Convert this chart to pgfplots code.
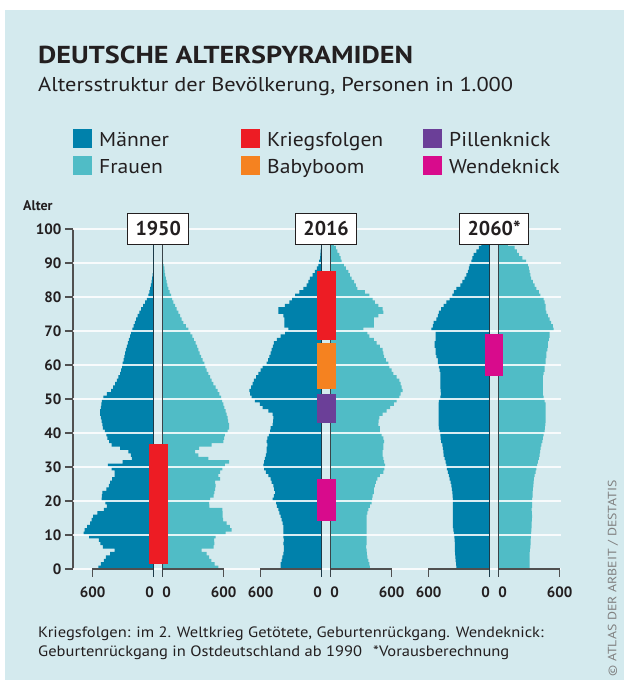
\documentclass[border=0pt]{standalone}
\usepackage{fontspec}
\setmainfont{PT Sans}
\usepackage{pgfplots}
\pgfplotsset{compat=1.18}
\usepackage{pgfplotstable}
\definecolor{bg}{HTML}{D4EAEE}
\definecolor{maenner}{HTML}{0081AB}
\definecolor{frauen}{HTML}{50BCC6}
\definecolor{krieg}{HTML}{ED1C24}
\definecolor{baby}{HTML}{F58220}
\definecolor{pille}{HTML}{6B3F98}
\definecolor{wende}{HTML}{D80B8C}
\definecolor{axisgray}{HTML}{505050}
\definecolor{txt}{HTML}{231F20}
\definecolor{menline}{HTML}{1C3A48}
\definecolor{womline}{HTML}{3A4449}
\begin{document}
\pgfplotstableread{
a m f
0 0 0
0 545 548
1 520 510
2 490 478
3 470 456
4 430 433
5 385 384
6 500 500
7 525 508
8 540 505
9 636 520
10 690 620
11 680 679
12 655 660
13 625 630
14 610 595
15 595 590
16 555 590
17 490 587
18 462 460
19 475 456
20 512 466
21 510 500
22 505 508
23 465 515
24 440 521
25 430 515
26 410 564
27 385 548
28 385 564
29 415 587
30 450 613
31 305 653
32 216 449
33 225 351
34 250 318
35 330 358
36 415 482
37 438 597
38 455 605
39 465 613
40 480 640
41 500 653
42 505 653
43 512 645
44 520 640
45 528 630
46 528 618
47 520 607
48 515 597
49 510 585
50 495 574
51 460 558
52 420 541
53 400 520
54 380 499
55 362 482
56 348 466
57 330 450
58 320 433
59 312 421
60 305 410
61 296 393
62 289 377
63 282 364
64 275 351
65 265 338
66 255 325
67 245 308
68 233 292
69 222 272
70 210 253
71 197 228
72 185 203
73 172 187
74 158 171
75 142 155
76 125 138
77 105 122
78 85 105
79 68 93
80 52 82
81 44 69
82 36 56
83 28 47
84 20 39
85 15 31
86 10 23
87 7 19
88 4 16
89 2 10
90 0 5
91 0 0
}\tabA
\pgfplotstableread{
a m f
0 0 0
0 403 387
1 403 380
2 394 371
3 387 361
4 377 357
5 371 354
6 371 348
7 377 354
8 371 354
9 377 354
10 377 354
11 377 354
12 377 354
13 384 354
14 394 354
15 403 354
16 417 361
17 426 371
18 440 387
19 449 403
20 482 408
21 470 413
22 459 426
23 468 426
24 476 436
25 492 446
26 502 459
27 525 485
28 550 518
29 567 528
30 574 535
31 565 525
32 558 518
33 550 512
34 541 512
35 541 518
36 535 520
37 541 525
38 535 518
39 520 502
40 508 485
41 502 485
42 482 469
43 478 472
44 476 479
45 482 512
46 525 551
47 581 584
48 607 623
49 656 649
50 689 676
51 705 689
52 710 708
53 695 699
54 680 689
55 666 676
56 645 649
57 623 617
58 600 600
59 581 577
60 541 567
61 528 544
62 515 525
63 503 518
64 492 512
65 480 485
66 469 453
67 440 426
68 403 380
69 360 361
70 328 321
71 367 426
72 367 426
73 367 426
74 377 469
75 426 518
76 426 512
77 361 469
78 318 436
79 290 413
80 262 380
81 220 338
82 180 262
83 148 249
84 130 230
85 115 207
86 90 190
87 66 174
88 48 151
89 33 131
90 25 108
91 16 98
92 13 85
93 10 66
94 6 52
95 3 33
96 2 20
97 1 10
98 0 5
99 0 0
}\tabB
\pgfplotstableread{
a m f
0 0 0
0 328 305
1 330 305
2 335 305
3 338 305
4 340 305
5 341 308
6 342 312
7 343 314
8 344 315
9 348 318
10 351 321
11 356 323
12 361 325
13 361 325
14 361 328
15 361 331
16 361 328
17 361 325
18 361 331
19 361 331
20 361 331
21 364 334
22 367 336
23 372 338
24 377 341
25 384 344
26 394 348
27 400 354
28 410 364
29 420 371
30 426 380
31 433 387
32 443 397
33 453 403
34 456 408
35 459 413
36 466 420
37 476 430
38 482 436
39 485 443
40 492 453
41 499 456
42 502 460
43 502 462
44 502 462
45 502 462
46 502 462
47 502 462
48 502 462
49 499 453
50 485 443
51 480 436
52 482 436
53 485 436
54 485 436
55 485 436
56 485 436
57 485 443
58 492 453
59 499 453
60 508 462
61 508 462
62 525 469
63 531 469
64 531 479
65 541 485
66 541 485
67 531 495
68 531 502
69 531 502
70 574 541
71 558 535
72 551 518
73 525 502
74 508 485
75 499 469
76 476 462
77 453 462
78 426 453
79 394 443
80 367 410
81 351 397
82 328 371
83 289 354
84 269 338
85 246 321
86 230 312
87 213 305
88 203 298
89 197 289
90 180 272
91 171 233
92 157 200
93 131 180
94 105 157
95 82 92
96 60 60
97 40 40
98 25 25
99 12 12
100 0 0
}\tabC
\begin{tikzpicture}[x=1pt,y=1pt]
\path[use as bounding box] (0,0) rectangle (624,684);
\fill[white] (0,0) rectangle (624,684);
\fill[bg] (5,4) rectangle (624,674);
% titles
\node[anchor=base west, inner sep=0, xscale=1.15, text=txt, font=\fontsize{24.5}{24}\selectfont\bfseries] at (38,620.7) {DEUTSCHE ALTERSPYRAMIDEN};
\node[anchor=base west, inner sep=0, xscale=1.12, text=txt, font=\fontsize{20}{20}\selectfont] at (38,592.5) {Altersstruktur der Bevölkerung, Personen in 1.000};
% legend
\fill[maenner] (73,536) rectangle (92,555);
\fill[frauen] (73,509) rectangle (92,528);
\fill[krieg] (241,536) rectangle (260,555);
\fill[baby] (241,509) rectangle (260,528);
\fill[pille] (423,536) rectangle (442,555);
\fill[wende] (423,509) rectangle (442,528);
\begin{scope}[every node/.style={anchor=base west, inner sep=0, xscale=1.08, text=txt, font=\fontsize{20}{20}\selectfont}]
\node at (99,537.3) {Männer};
\node at (99,510.7) {Frauen};
\node at (267,537.3) {Kriegsfolgen};
\node at (267,510.7) {Babyboom};
\node at (449,537.3) {Pillenknick};
\node at (449,510.7) {Wendeknick};
\end{scope}
\node[anchor=base west, inner sep=0, text=txt, font=\fontsize{14}{14}\selectfont\bfseries] at (23,473) {Alter};
% footnote
\node[anchor=base west, inner sep=0, xscale=1.1, text=txt, font=\fontsize{15}{15}\selectfont] at (38,46.5) {Kriegsfolgen: im 2. Weltkrieg Getötete, Geburtenrückgang. Wendeknick:};
\node[anchor=base west, inner sep=0, xscale=1.1, text=txt, font=\fontsize{15}{15}\selectfont] at (38,27) {Geburtenrückgang in Ostdeutschland ab 1990\hspace{10pt}*Vorausberechnung};
\node[rotate=90, anchor=west, inner sep=0, xscale=1.15, text=gray, font=\fontsize{12}{12}\selectfont] at (613,7) {© ATLAS DER ARBEIT / DESTATIS};
\begin{axis}[at={(73pt,115pt)}, anchor=south west, scale only axis,
  width=488pt, height=340pt,
  xmin=0, xmax=4800, ymin=0, ymax=100, clip=false,
  axis x line=none, axis y line*=left,
  y axis line style={axisgray, line width=1.3pt, -},
  ytick={0,10,...,100}, tick align=outside, major tick length=8pt,
  ytick style={axisgray, line width=1.3pt},
  yticklabel style={font=\fontsize{15}{15}\selectfont\bfseries, text=txt},
  /pgf/number format/assume math mode=true]
% pyramids
\addplot[fill=maenner, draw=none, const plot mark right] table[x expr=794-\thisrow{m}, y=a] {\tabA};
\addplot[fill=frauen, draw=none, const plot mark right] table[x expr=882+\thisrow{f}, y=a] {\tabA};
\addplot[fill=maenner, draw=none, const plot mark right] table[x expr=2446-\thisrow{m}, y=a] {\tabB};
\addplot[fill=frauen, draw=none, const plot mark right] table[x expr=2534+\thisrow{f}, y=a] {\tabB};
\addplot[fill=maenner, draw=none, const plot mark right] table[x expr=4098-\thisrow{m}, y=a] {\tabC};
\addplot[fill=frauen, draw=none, const plot mark right] table[x expr=4186+\thisrow{f}, y=a] {\tabC};
% grid lines
\pgfplotsinvokeforeach{0,10,...,100}{\draw[white, opacity=0.85, line width=1.3pt] (axis cs:0,#1) -- (axis cs:4800,#1);}
% brackets
\draw[axisgray, line width=1.3pt] (axis cs:194,-2.35) -- (axis cs:194,0) -- (axis cs:794,0);
\draw[axisgray, line width=1.3pt] (axis cs:882,0) -- (axis cs:1482,0) -- (axis cs:1482,-2.35);
\draw[axisgray, line width=1.3pt] (axis cs:1846,-2.35) -- (axis cs:1846,0) -- (axis cs:2446,0);
\draw[axisgray, line width=1.3pt] (axis cs:2534,0) -- (axis cs:3134,0) -- (axis cs:3134,-2.35);
\draw[axisgray, line width=1.3pt] (axis cs:3498,-2.35) -- (axis cs:3498,0) -- (axis cs:4098,0);
\draw[axisgray, line width=1.3pt] (axis cs:4186,0) -- (axis cs:4786,0) -- (axis cs:4786,-2.35);
% zero lines
\draw[menline, line width=1.4pt] (axis cs:794,-2.35) -- (axis cs:794,100);
\draw[womline, line width=1.4pt] (axis cs:882,-2.35) -- (axis cs:882,100);
\draw[menline, line width=1.4pt] (axis cs:2446,-2.35) -- (axis cs:2446,100);
\draw[womline, line width=1.4pt] (axis cs:2534,-2.35) -- (axis cs:2534,100);
\draw[menline, line width=1.4pt] (axis cs:4098,-2.35) -- (axis cs:4098,100);
\draw[womline, line width=1.4pt] (axis cs:4186,-2.35) -- (axis cs:4186,100);
% marked cohorts
\addplot[fill=krieg, draw=none] coordinates {(746,1.5) (930,1.5) (930,36.8) (746,36.8)};
\addplot[fill=krieg, draw=none] coordinates {(2398,67.4) (2582,67.4) (2582,87.6) (2398,87.6)};
\addplot[fill=baby, draw=none] coordinates {(2398,52.9) (2582,52.9) (2582,66.5) (2398,66.5)};
\addplot[fill=pille, draw=none] coordinates {(2398,43.0) (2582,43.0) (2582,51.5) (2398,51.5)};
\addplot[fill=wende, draw=none] coordinates {(2398,14.1) (2582,14.1) (2582,26.5) (2398,26.5)};
\addplot[fill=wende, draw=none] coordinates {(4050,56.9) (4234,56.9) (4234,69.1) (4050,69.1)};
% year boxes
\begin{scope}[every node/.style={draw=txt, fill=white, line width=1pt, text=txt, font=\fontsize{20}{20}\selectfont\bfseries, minimum height=31pt, inner xsep=8pt, inner ysep=0pt}]
\node at (axis cs:838,100.1) {1950};
\node at (axis cs:2490,100.1) {2016};
\node at (axis cs:4142,100.1) {2060*};
\end{scope}
% bottom tick labels
\begin{scope}[every node/.style={anchor=base, inner sep=0, text=txt, font=\fontsize{15}{15}\selectfont\bfseries}]
\node at (axis cs:194,-8.3) {600};
\node at (axis cs:754,-8.3) {0};
\node at (axis cs:922,-8.3) {0};
\node at (axis cs:1482,-8.3) {600};
\node at (axis cs:1846,-8.3) {600};
\node at (axis cs:2406,-8.3) {0};
\node at (axis cs:2574,-8.3) {0};
\node at (axis cs:3134,-8.3) {600};
\node at (axis cs:3498,-8.3) {600};
\node at (axis cs:4058,-8.3) {0};
\node at (axis cs:4226,-8.3) {0};
\node at (axis cs:4786,-8.3) {600};
\end{scope}
\end{axis}
\end{tikzpicture}
\end{document}
